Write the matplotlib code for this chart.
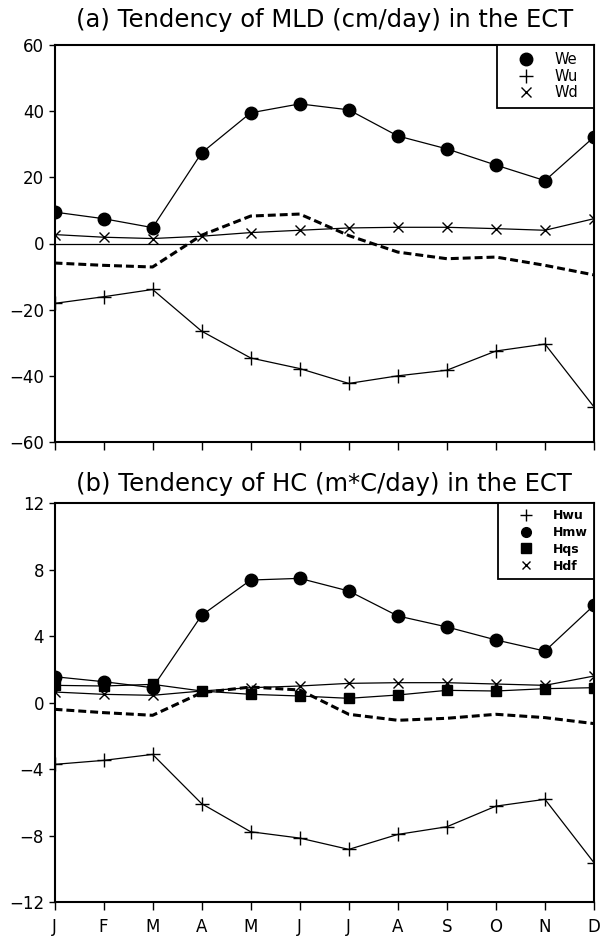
import matplotlib
matplotlib.use("Agg")
import matplotlib.pyplot as plt
from matplotlib.lines import Line2D

months = ["J", "F", "M", "A", "M", "J", "J", "A", "S", "O", "N", "D"]

# (a) tendency of MLD (cm/day)
we = [9.5, 7.5, 4.8, 27.4, 39.5, 42.2, 40.4, 32.5, 28.6, 23.7, 19.0, 32.2]
wu = [-18.1, -16.1, -13.9, -26.5, -34.6, -37.8, -42.3, -40.0, -38.3, -32.5, -30.4, -49.4]
wd = [2.7, 1.9, 1.5, 2.2, 3.3, 4.0, 4.7, 4.9, 4.9, 4.5, 4.0, 7.5]
mld_total = [-5.9, -6.6, -7.1, 2.5, 8.3, 8.9, 2.4, -2.6, -4.6, -4.1, -6.6, -9.5]

# (b) tendency of HC (m*C/day)
hwu = [-3.71, -3.47, -3.11, -6.07, -7.76, -8.14, -8.82, -7.92, -7.46, -6.22, -5.81, -9.62]
hmw = [1.56, 1.26, 0.9, 5.25, 7.37, 7.47, 6.71, 5.21, 4.55, 3.77, 3.10, 5.85]
hqs = [1.04, 1.0, 1.1, 0.7, 0.5, 0.4, 0.26, 0.46, 0.74, 0.7, 0.84, 0.9]
hdf = [0.64, 0.5, 0.44, 0.7, 0.9, 1.0, 1.16, 1.2, 1.2, 1.12, 1.04, 1.6]
hc_total = [-0.4, -0.6, -0.76, 0.6, 0.94, 0.76, -0.7, -1.06, -0.94, -0.7, -0.9, -1.26]

x = list(range(len(months)))

plt.rcParams["font.family"] = ["DejaVu Sans"]
fig = plt.figure(figsize=(6.02, 9.41), dpi=100)

W, H = 602.0, 941.0
left, right = 54.5 / W, 594.0 / W
ax_a = fig.add_axes([left, 1 - 442 / H, right - left, (442 - 45) / H])
ax_b = fig.add_axes([left, 1 - 902.3 / H, right - left, (902.3 - 503) / H])

line_kw = dict(color="black", lw=0.9)
dash_kw = dict(color="black", lw=2.2, dashes=(2.6, 1.3))

# panel (a)
ax_a.axhline(0, color="black", lw=0.9)
ax_a.plot(x, we, marker="o", ms=9, **line_kw)
ax_a.plot(x, wu, marker="+", ms=10, mew=1.0, **line_kw)
ax_a.plot(x, wd, marker="x", ms=7, mew=1.0, **line_kw)
ax_a.plot(x, mld_total, **dash_kw)
ax_a.set_ylim(-60, 60)
ax_a.set_yticks(range(-60, 61, 20))

# panel (b)
ax_b.plot(x, hwu, marker="+", ms=10, mew=1.0, **line_kw)
ax_b.plot(x, hmw, marker="o", ms=9, **line_kw)
ax_b.plot(x, hqs, marker="s", ms=7.5, **line_kw)
ax_b.plot(x, hdf, marker="x", ms=7, mew=1.0, **line_kw)
ax_b.plot(x, hc_total, **dash_kw)
ax_b.set_ylim(-12, 12)
ax_b.set_yticks(range(-12, 13, 4))

for ax in (ax_a, ax_b):
    ax.set_xlim(0, 11)
    ax.set_xticks(x)
    for s in ax.spines.values():
        s.set_linewidth(1.5)
    ax.tick_params(axis="y", direction="out", length=4.5, width=1.0, labelsize=12, pad=3)
    ax.tick_params(axis="x", direction="out", length=5.5, width=1.0, labelsize=12, pad=6)
ax_a.set_xticklabels([])
ax_b.set_xticklabels(months)

# legends
def add_legend(ax, labels, entries, x0, fontsize, weight, hl, spacing):
    handles = [Line2D([], [], ls="none", color="black", marker=m, ms=ms, mew=1.0)
               for m, ms in entries]
    leg = ax.legend(handles, labels, loc="upper left", mode="expand",
                    bbox_to_anchor=(x0, 0, 1 - x0, 1), borderaxespad=0,
                    fancybox=False, edgecolor="black", framealpha=1,
                    handlelength=hl, handletextpad=0.45, borderpad=0.5,
                    labelspacing=spacing, prop={"size": fontsize, "weight": weight})
    leg.get_frame().set_linewidth(1.3)
    return leg

add_legend(ax_a, ["We", "Wu", "Wd"], [("o", 9), ("+", 10), ("x", 7)],
           (497 - 54.5) / 539.5, 10.5, "normal", 3.0, 0.1)
add_legend(ax_b, ["Hwu", "Hmw", "Hqs", "Hdf"], [("+", 9), ("o", 7), ("s", 7), ("x", 6)],
           (498 - 54.5) / 539.5, 9, "bold", 3.4, 0.3)

cx = (left + right) / 2
fig.text(cx, 1 - 20 / H, "(a) Tendency of MLD (cm/day) in the ECT",
         ha="center", va="center", fontsize=17.5)
fig.text(cx, 1 - 484 / H, "(b) Tendency of HC (m*C/day) in the ECT",
         ha="center", va="center", fontsize=17.5)

fig.savefig("out.png", dpi=100)
